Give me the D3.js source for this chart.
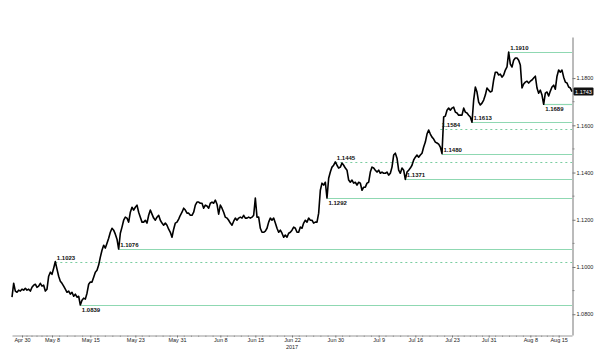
<!DOCTYPE html>
<html>
<head>
<meta charset="utf-8">
<script src="https://cdn.jsdelivr.net/npm/d3@7/dist/d3.min.js"></script>
<style>
  html, body { margin: 0; padding: 0; background: #fff; }
  svg { display: block; }
  text { font-family: "Liberation Sans", Arial, sans-serif; }
</style>
</head>
<body>
<svg id="chart" width="600" height="359"></svg>
<script>
// ---------------- DATA ----------------
// EUR/USD, late April – mid August 2017 (intraday closes, evenly spaced bars)
const prices = [
  // late Apr – mid May
  1.0872,1.0931,1.0898,1.0893,1.0902,1.0898,1.0906,1.0902,1.0910,1.0902,
  1.0906,1.0898,1.0914,1.0923,1.0927,1.0914,1.0919,1.0931,1.0919,1.0923,
  1.0898,1.0906,1.0961,1.0978,1.0969,1.0995,1.1023,1.0991,1.0961,1.0940,
  1.0931,1.0919,1.0906,1.0893,1.0898,1.0885,1.0893,1.0876,1.0885,1.0872,
  1.0876,1.0839,1.0859,1.0868,1.0864,1.0889,1.0927,1.0936,1.0936,1.0957,
  1.0978,1.0986,1.1008,1.1042,1.1071,1.1092,
  // mid May – early Jun
  1.1080,1.1101,1.1122,1.1147,1.1164,1.1156,1.1139,1.1118,1.1076,1.1143,
  1.1169,1.1198,1.1211,1.1207,1.1190,1.1232,1.1253,1.1241,1.1253,1.1262,
  1.1232,1.1211,1.1190,1.1190,1.1198,1.1186,1.1219,1.1241,1.1224,1.1207,
  1.1198,1.1211,1.1219,1.1198,1.1186,1.1177,1.1186,1.1177,1.1160,1.1147,
  1.1126,1.1160,1.1186,1.1190,1.1203,1.1219,1.1232,1.1249,1.1241,1.1228,
  1.1228,1.1219,1.1219,1.1232,1.1262,1.1275,
  // early Jun – late Jun
  1.1275,1.1270,1.1270,1.1249,1.1262,1.1258,1.1249,1.1270,1.1275,1.1270,
  1.1283,1.1266,1.1224,1.1262,1.1249,1.1232,1.1211,1.1207,1.1198,1.1186,
  1.1177,1.1194,1.1207,1.1198,1.1207,1.1211,1.1207,1.1219,1.1207,1.1207,
  1.1211,1.1207,1.1211,1.1219,1.1292,1.1211,1.1211,1.1164,1.1147,1.1147,
  1.1152,1.1164,1.1190,1.1207,1.1198,1.1207,1.1186,1.1164,1.1147,1.1156,
  1.1143,1.1126,1.1135,1.1126,1.1143,1.1147,1.1156,1.1169,1.1164,1.1147,
  1.1147,
  // late Jun – mid Jul
  1.1169,1.1164,1.1186,1.1198,1.1190,1.1207,1.1198,1.1198,1.1186,1.1190,
  1.1190,1.1228,1.1325,1.1355,1.1347,1.1359,1.1292,1.1376,1.1402,1.1423,
  1.1431,1.1445,1.1431,1.1419,1.1423,1.1440,1.1431,1.1419,1.1410,1.1368,
  1.1359,1.1368,1.1355,1.1359,1.1347,1.1359,1.1355,1.1325,1.1338,1.1338,
  1.1355,1.1359,1.1402,1.1423,1.1419,1.1410,1.1402,1.1410,1.1397,1.1402,
  1.1397,1.1397,1.1402,1.1389,1.1397,1.1423,1.1474,1.1482,1.1461,1.1410,
  1.1397,
  // mid Jul – early Aug
  1.1419,1.1410,1.1371,1.1402,1.1410,1.1419,1.1431,1.1453,1.1465,1.1474,
  1.1465,1.1474,1.1482,1.1508,1.1529,1.1563,1.1580,1.1563,1.1550,1.1542,
  1.1529,1.1525,1.1520,1.1508,1.1480,1.1635,1.1639,1.1664,1.1673,1.1664,
  1.1673,1.1677,1.1656,1.1652,1.1643,1.1643,1.1643,1.1673,1.1656,1.1652,
  1.1643,1.1635,1.1613,1.1707,1.1762,1.1741,1.1698,1.1686,1.1694,1.1707,
  1.1728,1.1758,1.1749,1.1741,
  // early Aug – mid Aug
  1.1745,1.1792,1.1825,1.1825,1.1813,1.1817,1.1804,1.1813,1.1834,1.1847,
  1.1910,1.1859,1.1847,1.1876,1.1885,1.1885,1.1876,1.1855,1.1758,1.1775,
  1.1783,1.1787,1.1779,1.1787,1.1792,1.1800,1.1808,1.1758,1.1736,1.1749,
  1.1728,1.1689,1.1736,1.1741,1.1724,1.1745,1.1762,1.1770,1.1753,1.1808,
  1.1834,1.1825,1.1834,1.1804,1.1783,1.1779,1.1762,1.1758,1.1743
];

const lastPrice = 1.1743;

// date labels and the bar index where each falls
const tickLabels = ["Apr 30","May 8","May 15","May 23","May 31","Jun 8","Jun 15","Jun 22",
                    "Jun 30","Jul 9","Jul 16","Jul 23","Jul 31","Aug 8","Aug 15"];
const tickIdx    = [6, 24, 47, 74, 99, 125, 146, 168, 194, 220, 242, 264, 286, 311, 328];
const tradingDaysBetween = [6, 5, 6, 6, 6, 5, 5, 6, 6, 5, 5, 6, 6, 5];
const yearLabel = "2017";
const yearAtTick = 7;

// y-axis
const yTickValues  = [1.08, 1.10, 1.12, 1.14, 1.16, 1.18];
const yMinorValues = [1.09, 1.11, 1.13, 1.15, 1.17];

// support / resistance levels: value, bar index where the level starts, dashed?
const levelValues = [1.1910, 1.1689, 1.1613, 1.1584, 1.1480, 1.1445, 1.1371, 1.1292, 1.1076, 1.1023, 1.0839];
const levelFrom   = [298,    319,    276,    257,    258,    194,    236,    189,    64,     26,     41];
const levelDashed = [false,  false,  false,  true,   false,  true,   false,  false,  false,  true,   false];

// ---------------- DRAWING ----------------
const svg = d3.select("#chart");

const x = d3.scaleLinear().domain([0, prices.length - 1]).range([12, 572]);
const y = d3.scaleLinear().domain([1.0712, 1.1974]).range([335, 37]);

// label placement (above/below the level line)
const labelBelow = [false, true, false, false, false, false, false, true, false, false, true];

const levels = levelValues.map((v, i) => ({ v, from: levelFrom[i], dashed: levelDashed[i], below: labelBelow[i] }));

// level lines
svg.append("g").selectAll("line").data(levels).join("line")
  .attr("x1", d => x(d.from))
  .attr("x2", x(prices.length - 1))
  .attr("y1", d => Math.round(y(d.v)) + 0.5)
  .attr("y2", d => Math.round(y(d.v)) + 0.5)
  .attr("stroke", d => d.dashed ? "#79cda0" : "#8fd8b2")
  .attr("stroke-width", 1.2)
  .attr("stroke-dasharray", d => d.dashed ? "2,3" : null);

// price line
const line = d3.line().x((d, i) => x(i)).y(d => y(d));
svg.append("path")
  .datum(prices)
  .attr("d", line)
  .attr("fill", "none")
  .attr("stroke", "#000")
  .attr("stroke-width", 1.6)
  .attr("stroke-linejoin", "round");

// level labels
svg.append("g").selectAll("text").data(levels).join("text")
  .attr("x", d => x(d.from) + 1.5)
  .attr("y", d => d.below ? y(d.v) + 6.5 : y(d.v) - 2)
  .attr("font-size", "6px")
  .attr("font-weight", "bold")
  .attr("fill", "#111")
  .text(d => d.v.toFixed(4));

// y axis (right)
const yAxis = d3.axisRight(y)
  .tickValues(yTickValues)
  .tickSize(3)
  .tickSizeOuter(0)
  .tickFormat(d3.format(".4f"));
const gy = svg.append("g").attr("transform", "translate(572.5,0)").call(yAxis);
gy.select(".domain").attr("stroke", "#777");
gy.selectAll(".tick line").attr("stroke", "#777");
gy.selectAll(".tick text").attr("font-size", "5.5px").attr("fill", "#222")
  .attr("font-family", "Liberation Sans, Arial, sans-serif").attr("x", 4);

svg.append("g").selectAll("line").data(yMinorValues).join("line")
  .attr("x1", 572.5).attr("x2", 574.5)
  .attr("y1", d => y(d)).attr("y2", d => y(d))
  .attr("stroke", "#888");

// last price tag
const tag = svg.append("g").attr("transform", `translate(573.5,${y(lastPrice)})`);
tag.append("rect").attr("x", 0).attr("y", -4).attr("width", 20).attr("height", 8)
  .attr("rx", 1).attr("fill", "#111");
tag.append("text").attr("x", 10).attr("y", 2).attr("text-anchor", "middle")
  .attr("font-size", "5.5px").attr("fill", "#fff").text(lastPrice.toFixed(4));

// x axis
const xAxis = d3.axisBottom(x)
  .tickValues(tickIdx)
  .tickSize(2)
  .tickSizeOuter(0)
  .tickFormat((d, i) => tickLabels[i]);
const gx = svg.append("g").attr("transform", "translate(0,335.5)").call(xAxis);
gx.select(".domain").attr("stroke", "#999");
gx.selectAll(".tick line").attr("stroke", "#777");
gx.selectAll(".tick text").attr("font-size", "5.5px").attr("fill", "#222")
  .attr("font-family", "Liberation Sans, Arial, sans-serif").attr("dy", "0.6em").attr("y", 3);

// minor (daily) ticks on the x axis
const minor = [];
tickIdx.slice(0, -1).forEach((t, i) => {
  const n = tradingDaysBetween[i];
  const step = (tickIdx[i + 1] - t) / n;
  for (let k = 1; k < n; k++) minor.push(t + k * step);
});
svg.append("g").selectAll("line").data(minor).join("line")
  .attr("x1", d => x(d)).attr("x2", d => x(d))
  .attr("y1", 335.5).attr("y2", 337)
  .attr("stroke", "#999");

// year label
svg.append("text")
  .attr("x", x(tickIdx[yearAtTick]))
  .attr("y", 349)
  .attr("text-anchor", "middle")
  .attr("font-size", "5.5px")
  .attr("fill", "#222")
  .text(yearLabel);
</script>
</body>
</html>
